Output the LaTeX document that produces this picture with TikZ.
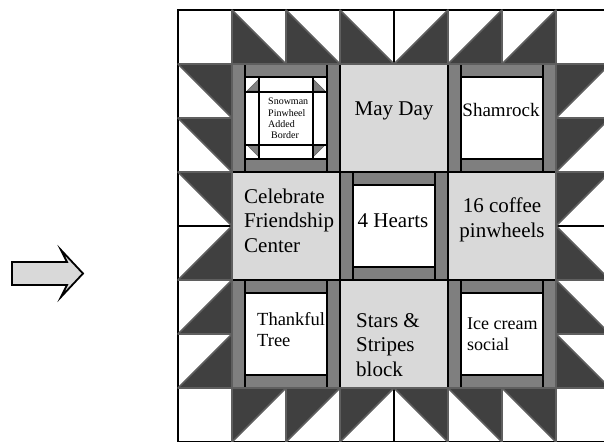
\documentclass[tikz,border=0pt]{standalone}
\usepackage{fontspec}
\setmainfont{Liberation Serif}

\definecolor{darkpatch}{HTML}{404040}
\definecolor{tripline}{HTML}{5F5F5F}
\definecolor{framegray}{HTML}{7F7F7F}
\definecolor{lightpatch}{HTML}{D9D9D9}

\tikzset{
  borderpatch/.style={draw=black, line width=2pt, fill=white},
  seam/.style={draw=black, line width=2.2pt},
  sawtooth/.style={fill=darkpatch, draw=tripline, line width=1.6pt, line join=round},
  pinpoint/.style={fill=framegray, draw=tripline, line width=0.6pt, line join=round},
  frameblock/.style={draw=black, line width=2.2pt, fill=framegray},
  plainblock/.style={draw=black, line width=2.2pt, fill=lightpatch},
  centreblock/.style={draw=black, line width=2.2pt, fill=white},
  arrowshape/.style={draw=black, line width=1.8pt, fill=lightpatch, line join=miter},
  blocklabel/.style={inner sep=0pt, align=left, font=\fontsize{21}{24.5}\selectfont},
}

\begin{document}
\begin{tikzpicture}[x=1pt, y=-1pt]
        \useasboundingbox (0, 0) rectangle (604, 441);
        \clip (0, 0) rectangle (604, 441);
        % Arrow:
        \draw[arrowshape] (12, 262) -- (67, 262) -- (61, 250) -- (83, 273.5) -- (61, 297) -- (67, 285) -- (12, 285) -- cycle;
        % Border squares:
        \draw[borderpatch] (178, 10) rectangle (610, 442);
        \draw[seam] (232, 10) -- (232, 442) (556, 10) -- (556, 442) (178, 64) -- (610, 64) (178, 388) -- (610, 388);
        \draw[seam] (286, 10) -- (286, 64) (340, 10) -- (340, 64) (394, 10) -- (394, 64) (448, 10) -- (448, 64) (502, 10) -- (502, 64);
        \draw[seam] (286, 388) -- (286, 442) (340, 388) -- (340, 442) (394, 388) -- (394, 442) (448, 388) -- (448, 442) (502, 388) -- (502, 442);
        \draw[seam] (178, 118) -- (232, 118) (178, 172) -- (232, 172) (178, 226) -- (232, 226) (178, 280) -- (232, 280) (178, 334) -- (232, 334);
        \draw[seam] (556, 118) -- (610, 118) (556, 172) -- (610, 172) (556, 226) -- (610, 226) (556, 280) -- (610, 280) (556, 334) -- (610, 334);
        % Blocks:
        \draw[frameblock] (232, 64) rectangle (340, 172);
        \draw[plainblock] (340, 64) rectangle (448, 172);
        \draw[frameblock] (448, 64) rectangle (556, 172);
        \draw[plainblock] (232, 172) rectangle (340, 280);
        \draw[frameblock] (340, 172) rectangle (448, 280);
        \draw[plainblock] (448, 172) rectangle (556, 280);
        \draw[frameblock] (232, 280) rectangle (340, 388);
        \draw[plainblock] (340, 280) rectangle (448, 388);
        \draw[frameblock] (448, 280) rectangle (556, 388);
        \draw[centreblock] (245, 77) rectangle (327, 159);
        \draw[centreblock] (461, 77) rectangle (543, 159);
        \draw[centreblock] (353, 185) rectangle (435, 267);
        \draw[centreblock] (245, 293) rectangle (327, 375);
        \draw[centreblock] (461, 293) rectangle (543, 375);
        \draw[seam] (245, 64) -- (245, 172) (327, 64) -- (327, 172);
        \draw[seam] (461, 64) -- (461, 172) (543, 64) -- (543, 172);
        \draw[seam] (353, 172) -- (353, 280) (435, 172) -- (435, 280);
        \draw[seam] (245, 280) -- (245, 388) (327, 280) -- (327, 388);
        \draw[seam] (461, 280) -- (461, 388) (543, 280) -- (543, 388);
        % Snowman pinwheel border:
        \draw[pinpoint] (259, 79) -- (259, 91) -- (247, 91) -- cycle;
        \draw[pinpoint] (313, 79) -- (313, 91) -- (325, 91) -- cycle;
        \draw[pinpoint] (247, 145) -- (259, 145) -- (259, 157) -- cycle;
        \draw[pinpoint] (313, 145) -- (325, 145) -- (313, 157) -- cycle;
        \draw[seam] (259, 77) -- (259, 159) (313, 77) -- (313, 159) (245, 92) -- (327, 92) (245, 145) -- (327, 145);
        % Sawtooth triangles, top row:
        \draw[sawtooth] (232, 10) -- (232, 64) -- (286, 64) -- cycle;
        \draw[sawtooth] (286, 10) -- (286, 64) -- (340, 64) -- cycle;
        \draw[sawtooth] (340, 10) -- (340, 64) -- (394, 64) -- cycle;
        \draw[sawtooth] (448, 10) -- (394, 64) -- (448, 64) -- cycle;
        \draw[sawtooth] (502, 10) -- (448, 64) -- (502, 64) -- cycle;
        \draw[sawtooth] (556, 10) -- (502, 64) -- (556, 64) -- cycle;
        % bottom row:
        \draw[sawtooth] (232, 388) -- (286, 388) -- (232, 442) -- cycle;
        \draw[sawtooth] (286, 388) -- (340, 388) -- (286, 442) -- cycle;
        \draw[sawtooth] (340, 388) -- (394, 388) -- (340, 442) -- cycle;
        \draw[sawtooth] (394, 388) -- (448, 388) -- (448, 442) -- cycle;
        \draw[sawtooth] (448, 388) -- (502, 388) -- (502, 442) -- cycle;
        \draw[sawtooth] (502, 388) -- (556, 388) -- (556, 442) -- cycle;
        % left column:
        \draw[sawtooth] (178, 64) -- (232, 64) -- (232, 118) -- cycle;
        \draw[sawtooth] (178, 118) -- (232, 118) -- (232, 172) -- cycle;
        \draw[sawtooth] (178, 172) -- (232, 172) -- (232, 226) -- cycle;
        \draw[sawtooth] (232, 226) -- (232, 280) -- (178, 280) -- cycle;
        \draw[sawtooth] (232, 280) -- (232, 334) -- (178, 334) -- cycle;
        \draw[sawtooth] (232, 334) -- (232, 388) -- (178, 388) -- cycle;
        % right column:
        \draw[sawtooth] (556, 64) -- (610, 64) -- (556, 118) -- cycle;
        \draw[sawtooth] (556, 118) -- (610, 118) -- (556, 172) -- cycle;
        \draw[sawtooth] (556, 172) -- (610, 172) -- (556, 226) -- cycle;
        \draw[sawtooth] (556, 226) -- (556, 280) -- (610, 280) -- cycle;
        \draw[sawtooth] (556, 280) -- (556, 334) -- (610, 334) -- cycle;
        \draw[sawtooth] (556, 334) -- (556, 388) -- (610, 388) -- cycle;
        % Block names (base = last line):
        \node[blocklabel, anchor=base west, font=\fontsize{10}{11}\selectfont] (N1) at (268, 138) {Snowman\\Pinwheel\\Added\\\hspace*{3pt}Border};
        \node[blocklabel, anchor=base] (N2) at (394, 115) {May Day};
        \node[blocklabel, anchor=base, font=\fontsize{19}{22}\selectfont] (N3) at (501, 116) {Shamrock};
        \node[blocklabel, anchor=base west] (N4) at (244, 252) {Celebrate\\Friendship\\Center};
        \node[blocklabel, anchor=base] (N5) at (393, 227) {4 Hearts};
        \node[blocklabel, anchor=base, align=center] (N6) at (502, 237) {16 coffee\\pinwheels};
        \node[blocklabel, anchor=base west, font=\fontsize{18.5}{21}\selectfont] (N7) at (257, 346) {Thankful\\Tree};
        \node[blocklabel, anchor=base west] (N8) at (356, 376) {Stars \&\\Stripes\\block};
        \node[blocklabel, anchor=base west, font=\fontsize{18}{21}\selectfont] (N9) at (467, 350) {Ice cream\\social};
      \end{tikzpicture}
\end{document}
